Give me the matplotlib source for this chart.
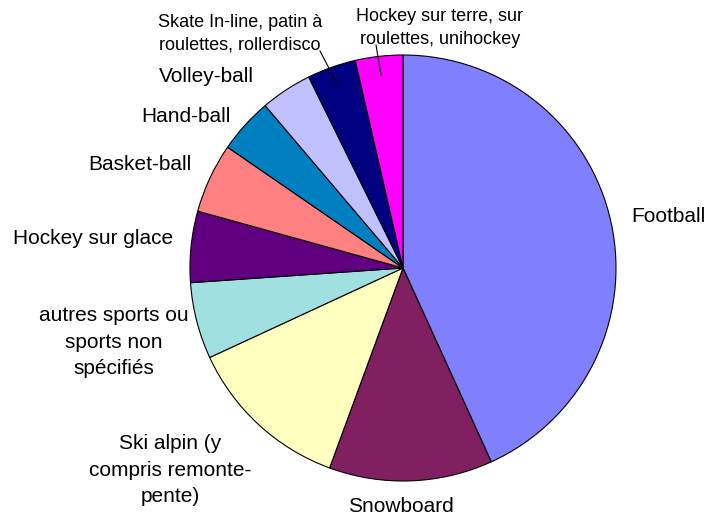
import numpy as np
import matplotlib.pyplot as plt

plt.rcParams['font.family'] = ['Liberation Sans', 'DejaVu Sans']

# share of accidents by sport (%), clockwise from 12 o'clock
sports = ['Football', 'Snowboard', 'Ski alpin (y\ncompris remonte-\npente)',
          'autres sports ou\nsports non\nspécifiés', 'Hockey sur glace',
          'Basket-ball', 'Hand-ball', 'Volley-ball',
          'Skate In-line, patin à\nroulettes, rollerdisco',
          'Hockey sur terre, sur\nroulettes, unihockey']
values = [43.2, 12.4, 12.5, 5.8, 5.4, 5.3, 4.2, 3.9, 3.7, 3.6]
colors = ['#8080FF', '#802060', '#FFFFC0', '#A0E0E0', '#600080',
          '#FF8080', '#0080C0', '#C0C0FF', '#000080', '#FF00FF']

W, H = 707, 515
fig = plt.figure(figsize=(W / 100, H / 100), dpi=100)
ax = fig.add_axes([0, 0, 1, 1])

cx, cy, R = 403, H - 268, 213
ax.pie(values, colors=colors, startangle=90, counterclock=False,
       center=(cx, cy), radius=R,
       wedgeprops=dict(edgecolor='black', linewidth=0.8))
ax.set_xlim(0, W)
ax.set_ylim(0, H)
ax.set_aspect('equal')
ax.axis('off')

# label positions (image pixels), font sizes
lab_pos = [(668, 216), (401, 507), (170, 470), (114, 342), (93, 238),
           (140, 165), (186, 116), (206, 77), (240, 34), (440, 28)]
sizes = [15, 15, 15, 15, 15, 15, 15, 15, 13, 13]

angles = 90 - 360 * (np.cumsum(values) - np.array(values) / 2) / sum(values)
for i, name in enumerate(sports):
    x, y = lab_pos[i]
    if i >= 8:
        a = np.deg2rad(angles[i])
        r = 0.91 * R
        tip = (cx + r * np.cos(a), cy + r * np.sin(a))
        start = (x + (80 if i == 8 else -64), H - y - 17)
        ax.plot([start[0], tip[0]], [start[1], tip[1]], color='black', lw=0.8)
    ax.text(x, H - y, name, ha='center', va='center', fontsize=sizes[i],
            linespacing=1.5 if sizes[i] == 15 else 1.4)

fig.savefig('out.png', dpi=100)
